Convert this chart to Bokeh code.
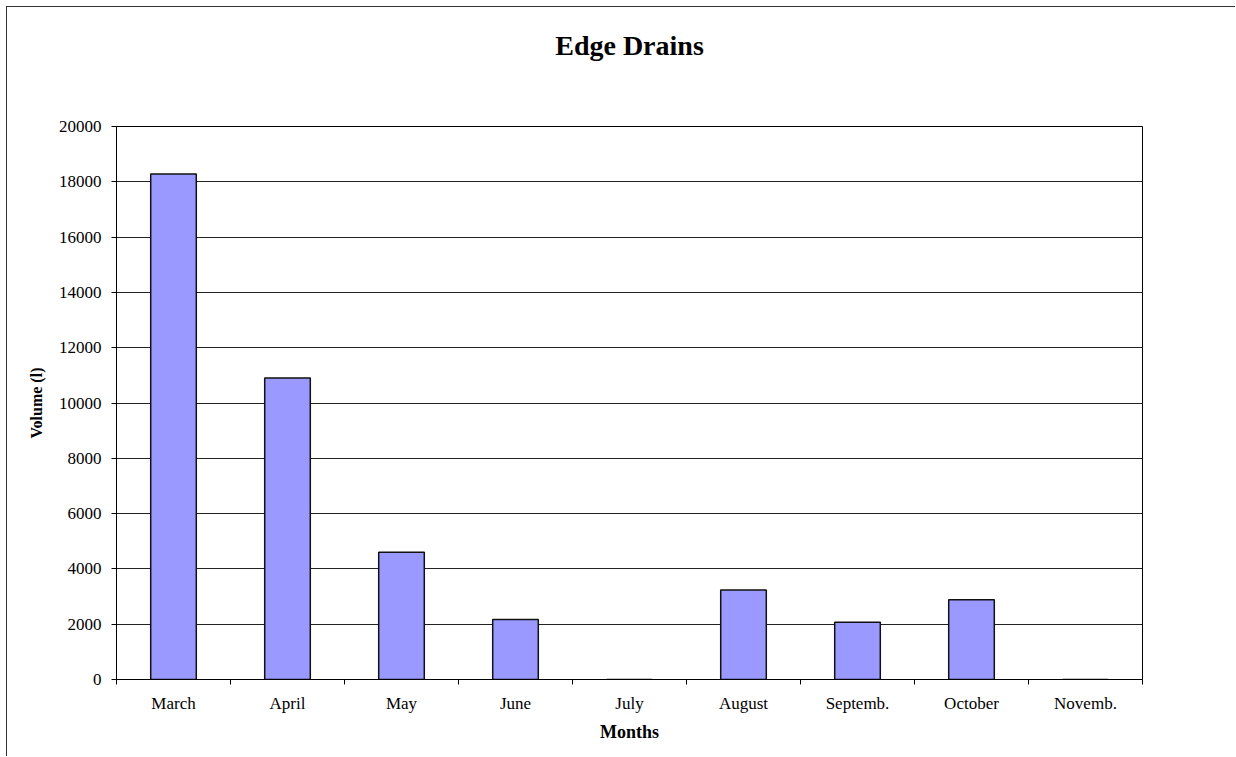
from bokeh.plotting import figure
from bokeh.models import FixedTicker, Range1d, ColumnDataSource, Title
from bokeh.embed import file_html
from bokeh.resources import INLINE

months = ["March", "April", "May", "June", "July", "August", "Septemb.", "October", "Novemb."]
volume = [18280, 10900, 4600, 2170, 0, 3240, 2070, 2880, 0]
y_ticks = [0, 2000, 4000, 6000, 8000, 10000, 12000, 14000, 16000, 18000, 20000]

xpos = [i + 0.5 for i in range(len(months))]
src = ColumnDataSource(dict(x=xpos, top=volume))

FONT = "Liberation Serif"

p = figure(width=1229, height=750, output_backend="svg", toolbar_location=None,
           x_range=Range1d(0, len(months)), y_range=Range1d(0, 20000),
           min_border_left=109, min_border_right=94,
           min_border_top=10, min_border_bottom=78)
p.styles = {"border-left": "1px solid #333333", "border-top": "1px solid #333333",
            "margin-left": "6px", "margin-top": "6px"}

# spacer between title and plot frame (closest to frame)
p.add_layout(Title(text=" ", text_font_size="1px", standoff=43), "above")
# chart title (outermost)
p.add_layout(Title(text="Edge Drains", text_font=FONT, text_font_size="28px",
                   text_font_style="bold", align="center", text_color="black",
                   standoff=40), "above")

p.vbar(x="x", top="top", width=0.4, bottom=0, source=src,
       fill_color="#9999FF", line_color="#111111", line_width=1.5)

p.outline_line_color = "black"
p.outline_line_width = 1
p.background_fill_color = "white"
p.border_fill_color = "white"

p.xgrid.grid_line_color = None
p.ygrid.grid_line_color = "#222222"
p.ygrid.grid_line_width = 1
p.ygrid.ticker = FixedTicker(ticks=y_ticks)

xa = p.xaxis[0]
xa.ticker = FixedTicker(ticks=xpos, minor_ticks=list(range(len(months) + 1)))
xa.major_label_overrides = {x: m for x, m in zip(xpos, months)}
xa.major_tick_line_color = None
xa.minor_tick_line_color = "black"
xa.minor_tick_out = 5
xa.minor_tick_in = 0
xa.axis_line_color = "black"
xa.major_label_text_font = FONT
xa.major_label_text_font_size = "17px"
xa.major_label_text_color = "black"
xa.major_label_standoff = 8
xa.axis_label = "Months"
xa.axis_label_text_font = FONT
xa.axis_label_text_font_size = "18px"
xa.axis_label_text_font_style = "bold"
xa.axis_label_text_color = "black"
xa.axis_label_standoff = 6

ya = p.yaxis[0]
ya.ticker = FixedTicker(ticks=y_ticks)
ya.minor_tick_line_color = None
ya.major_tick_out = 5
ya.major_tick_in = 0
ya.major_tick_line_color = "black"
ya.axis_line_color = "black"
ya.major_label_text_font = FONT
ya.major_label_text_font_size = "17px"
ya.major_label_text_color = "black"
ya.major_label_standoff = 10
ya.axis_label = "Volume (l)"
ya.axis_label_text_font = FONT
ya.axis_label_text_font_size = "16px"
ya.axis_label_text_font_style = "bold"
ya.axis_label_text_color = "black"
ya.axis_label_standoff = 11

open("out.html", "w").write(file_html(p, INLINE))
